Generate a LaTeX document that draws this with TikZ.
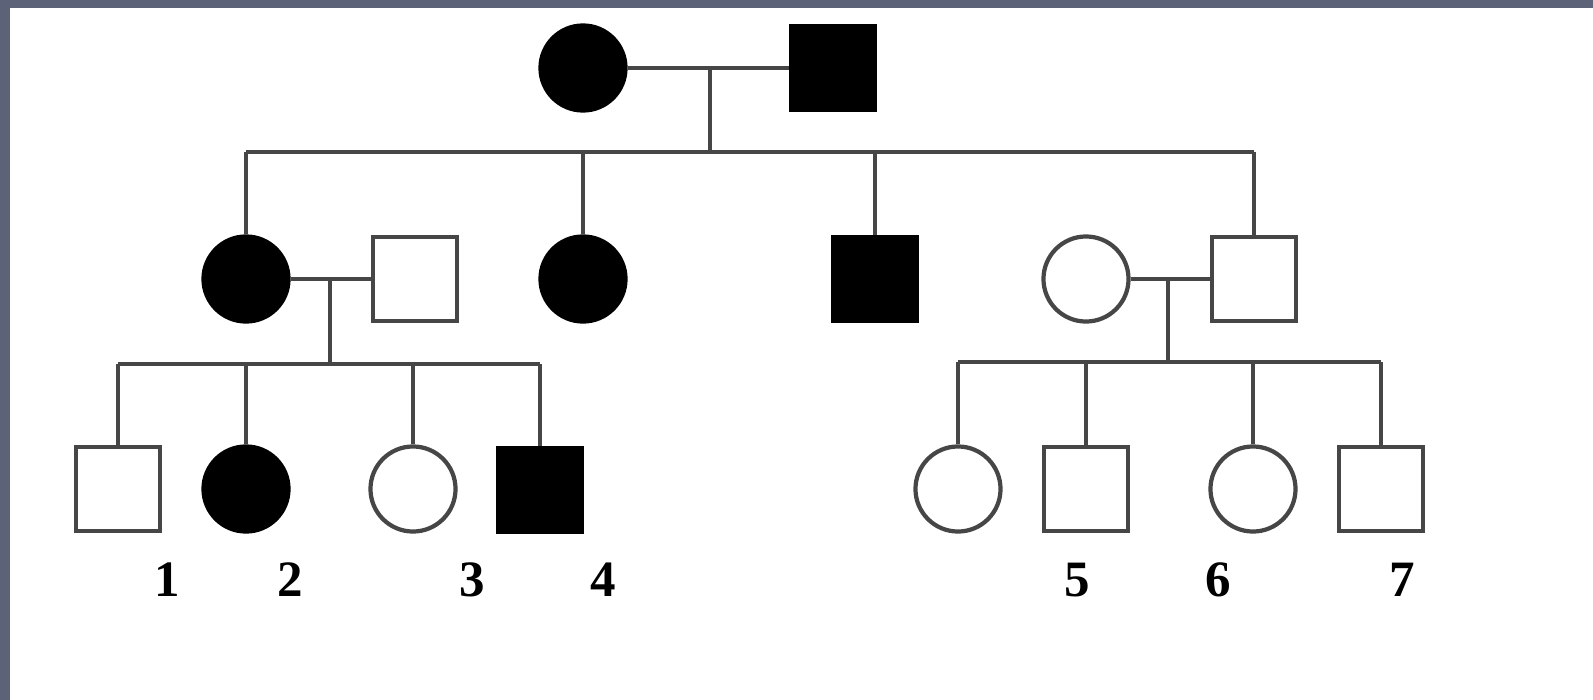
\documentclass[tikz,border=0pt]{standalone}
\usepackage{fontspec}
\setmainfont{Liberation Serif}
\definecolor{frame}{RGB}{92,99,120}
\definecolor{ink}{RGB}{70,70,70}
\begin{document}
\begin{tikzpicture}[x=0.01cm,y=-0.01cm,
  fem/.style={circle,draw=ink,line width=1.2pt,minimum size=0.85cm,inner sep=0pt},
  mal/.style={rectangle,draw=ink,line width=1.2pt,minimum size=0.84cm,inner sep=0pt},
  aff/.style={fill=black,draw=black},
  unaff/.style={fill=white},
  link/.style={draw=ink,line width=0.9pt},
  lab/.style={font=\fontsize{14.5}{16}\selectfont\bfseries,inner sep=0pt}]
\useasboundingbox (0,0) rectangle (1593,700);
\fill[white] (0,0) rectangle (1593,700);
\fill[frame] (0,0) rectangle (1593,8);
\fill[frame] (0,0) rectangle (10,700);
% Generation I
\node[fem,aff] (g1f) at (583,68) {};
\node[mal,aff] (g1m) at (833,68) {};
% Generation II
\node[fem,aff] (a) at (246,279) {};
\node[mal,unaff] (b) at (415,279) {};
\node[fem,aff] (c) at (583,279) {};
\node[mal,aff] (d) at (875,279) {};
\node[fem,unaff] (e) at (1086,279) {};
\node[mal,unaff] (f) at (1254,279) {};
% Generation III
\node[mal,unaff] (p1) at (118,489) {};
\node[fem,aff] (p2) at (246,489) {};
\node[fem,unaff] (p3) at (413,489) {};
\node[mal,aff] (p4) at (540,490) {};
\node[fem,unaff] (q1) at (958,489) {};
\node[mal,unaff] (q2) at (1086,489) {};
\node[fem,unaff] (q3) at (1253,489) {};
\node[mal,unaff] (q4) at (1381,489) {};
% labels
\node[lab] (l1) at (167,580) {1};
\node[lab] (l2) at (290,580) {2};
\node[lab] (l3) at (472,580) {3};
\node[lab] (l4) at (603,580) {4};
\node[lab] (l5) at (1077,580) {5};
\node[lab] (l6) at (1218,580) {6};
\node[lab] (l7) at (1402,580) {7};
% coordinates
\coordinate (m1) at (710,68);
\coordinate (s1) at (710,152);
\coordinate (s1a) at (246,152);
\coordinate (s1c) at (583,152);
\coordinate (s1d) at (875,152);
\coordinate (s1f) at (1254,152);
\coordinate (m2) at (330,279);
\coordinate (s2) at (330,364);
\coordinate (s2a) at (118,364);
\coordinate (s2b) at (246,364);
\coordinate (s2c) at (413,364);
\coordinate (s2d) at (540,364);
\coordinate (m3) at (1168,279);
\coordinate (s3) at (1168,362);
\coordinate (s3a) at (958,362);
\coordinate (s3b) at (1086,362);
\coordinate (s3c) at (1253,362);
\coordinate (s3d) at (1381,362);
% connectors
\draw[link] (g1f.east) -- (g1m.west);
\draw[link] (m1) -- (s1);
\draw[link] (s1a) -- (s1f);
\draw[link] (s1a) -- (a.north);
\draw[link] (s1c) -- (c.north);
\draw[link] (s1d) -- (d.north);
\draw[link] (s1f) -- (f.north);
\draw[link] (a.east) -- (b.west);
\draw[link] (m2) -- (s2);
\draw[link] (s2a) -- (s2d);
\draw[link] (s2a) -- (p1.north);
\draw[link] (s2b) -- (p2.north);
\draw[link] (s2c) -- (p3.north);
\draw[link] (s2d) -- (p4.north);
\draw[link] (e.east) -- (f.west);
\draw[link] (m3) -- (s3);
\draw[link] (s3a) -- (s3d);
\draw[link] (s3a) -- (q1.north);
\draw[link] (s3b) -- (q2.north);
\draw[link] (s3c) -- (q3.north);
\draw[link] (s3d) -- (q4.north);
\end{tikzpicture}
\end{document}
